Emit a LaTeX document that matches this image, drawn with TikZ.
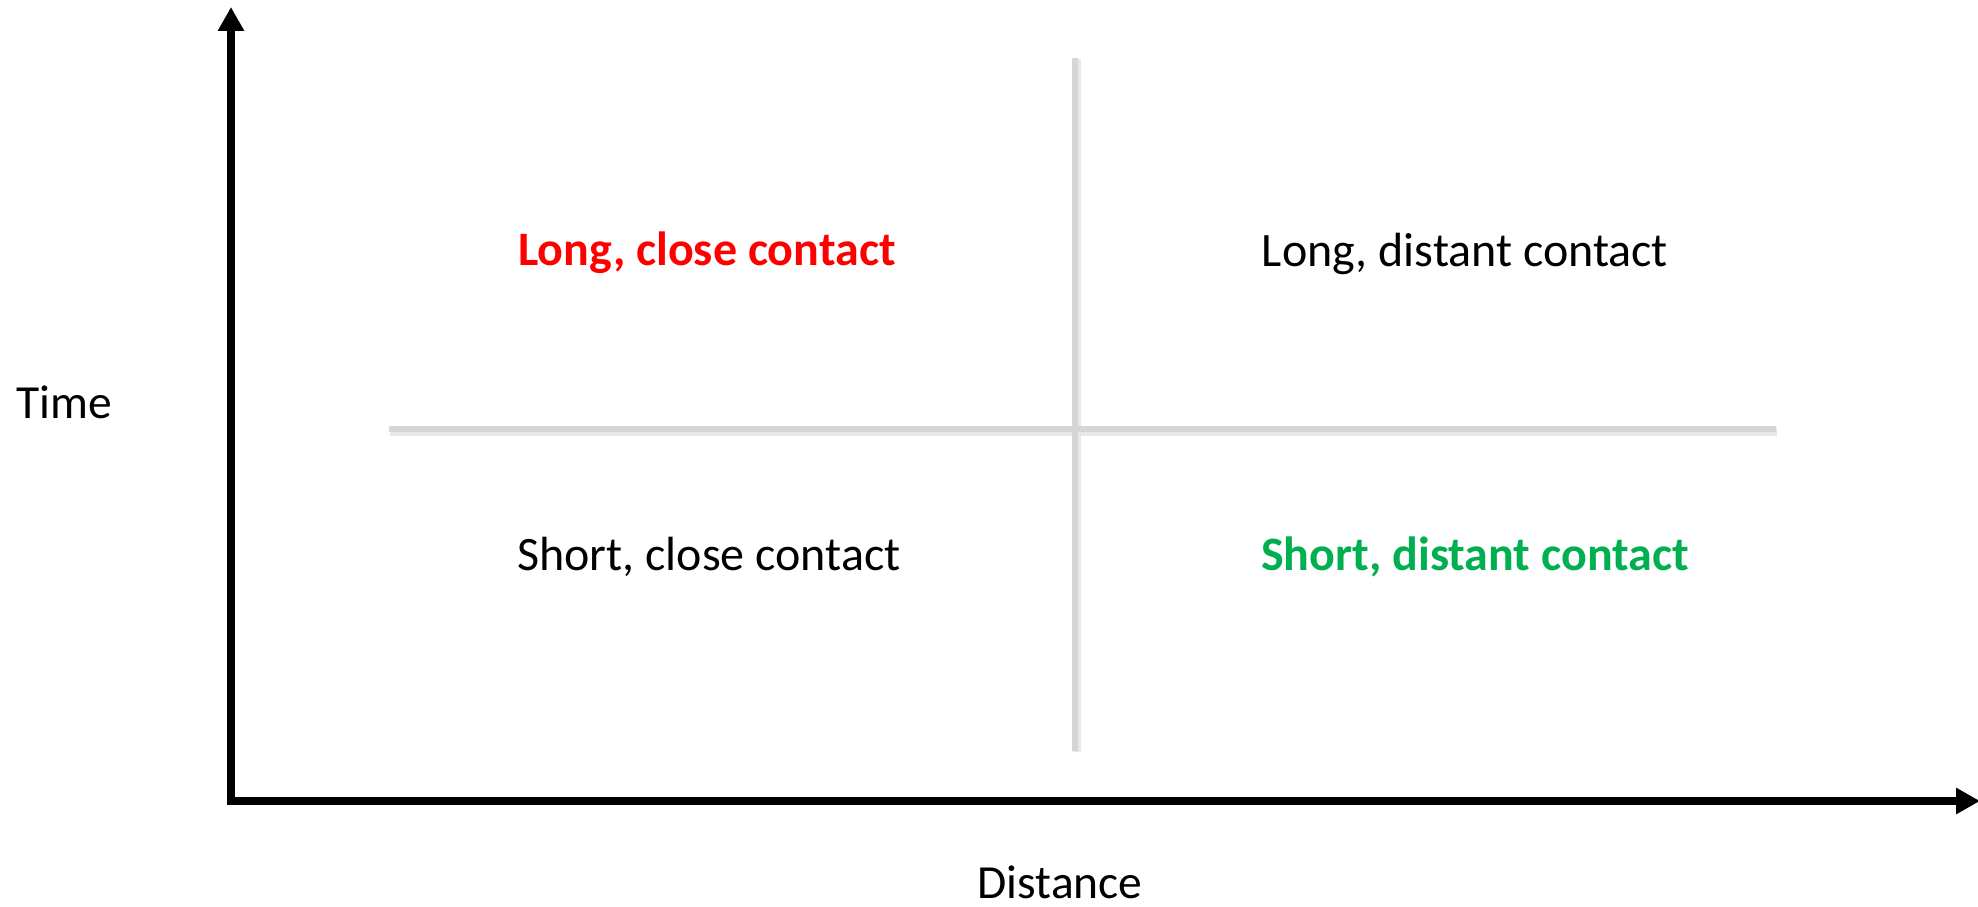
\documentclass[tikz,border=0pt]{standalone}
\usepackage{fontspec}
\setmainfont{Carlito}
\usetikzlibrary{arrows.meta}
\definecolor{quadred}{RGB}{255,0,0}
\definecolor{quadgreen}{RGB}{0,176,80}
\definecolor{divgray}{RGB}{214,214,214}
\definecolor{divshadow}{RGB}{232,232,232}
\begin{document}
\begin{tikzpicture}[x=1pt,y=-1pt,
  axis/.style={line width=8pt,-{Triangle[width=25pt,length=24pt]}},
  divider/.style={line width=6pt,divgray},
  divshade/.style={line width=8pt,divshadow},
  quad/.style={anchor=base,font=\fontsize{48}{58}\selectfont,inner sep=0pt},
  axlabel/.style={anchor=base,font=\fontsize{47.5}{57}\selectfont,inner sep=0pt}]
\useasboundingbox (0,0) rectangle (1978,907);
% coordinates
\coordinate (O) at (231,801);
\coordinate (ytop) at (231,7);
\coordinate (xend) at (1980,801);
\coordinate (hl) at (389,429);
\coordinate (hr) at (1776,429);
\coordinate (vt) at (1075,58);
\coordinate (vb) at (1075,751);
% dividers with soft shadow
\draw[divshade] ([shift={(1,3)}]hl) -- ([shift={(1,3)}]hr);
\draw[divshade] ([shift={(2,1)}]vt) -- ([shift={(2,1)}]vb);
\draw[divider] (hl) -- (hr);
\draw[divider] (vt) -- (vb);
% axes
\draw[axis] ([yshift=4pt]O) -- (ytop);
\draw[axis] ([xshift=-4pt]O) -- (xend);
% labels
\node[quad,text=quadred,font=\fontsize{48}{58}\selectfont\bfseries] (lc) at (707,265) {Long, close contact};
\node[quad] (ld) at (1465,266) {Long, distant contact};
\node[quad] (sc) at (709,570) {Short, close contact};
\node[quad,text=quadgreen,font=\fontsize{48}{58}\selectfont\bfseries] (sd) at (1475,570) {Short, distant contact};
\node[axlabel] (time) at (64,418) {Time};
\node[axlabel] (dist) at (1060,898) {Distance};
\end{tikzpicture}
\end{document}
